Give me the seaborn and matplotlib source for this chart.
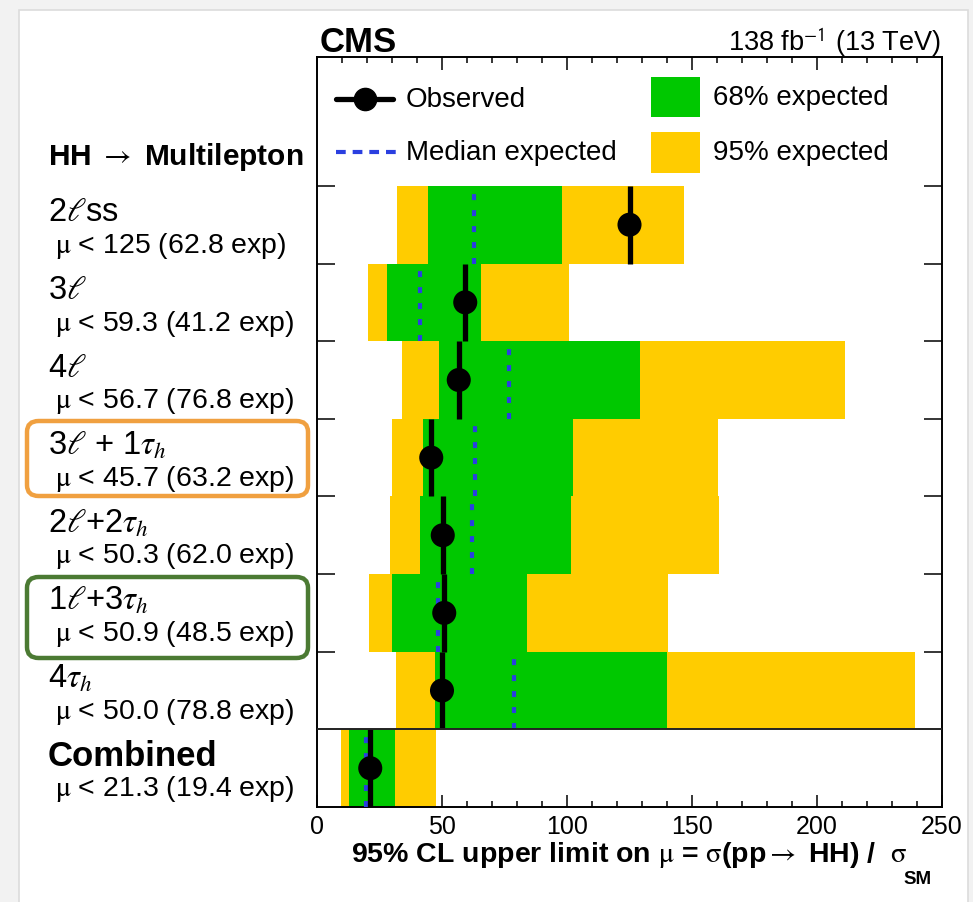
import numpy as np
import pandas as pd
import matplotlib
matplotlib.use("Agg")
import matplotlib.pyplot as plt
import seaborn as sns
from matplotlib.patches import Rectangle, FancyBboxPatch
from matplotlib.lines import Line2D
from matplotlib.ticker import MultipleLocator, FixedLocator
from matplotlib.transforms import blended_transform_factory

# ---- data: HH -> multilepton upper limits (top to bottom) ----
channels = ["2$\\ell$ss", "3$\\ell$", "4$\\ell$", "3$\\ell$ + 1$\\tau_h$",
            "2$\\ell$+2$\\tau_h$", "1$\\ell$+3$\\tau_h$", "4$\\tau_h$", "Combined"]
observed = [125.0, 59.3, 56.7, 45.7, 50.3, 50.9, 50.0, 21.3]
expected = [62.8, 41.2, 76.8, 63.2, 62.0, 48.5, 78.8, 19.4]
lo95 = [32.0, 20.3, 34.0, 30.0, 29.2, 20.8, 31.6, 9.5]
lo68 = [44.4, 27.9, 48.9, 42.4, 41.2, 30.1, 47.3, 12.9]
hi68 = [98.0, 65.6, 129.2, 102.4, 101.5, 83.9, 140.0, 31.2]
hi95 = [146.8, 100.8, 211.2, 160.4, 160.8, 140.4, 239.2, 47.6]

n = len(channels)
df = pd.DataFrame({
    "channel": channels, "obs": observed, "exp": expected,
    "lo95": lo95, "lo68": lo68, "hi68": hi68, "hi95": hi95,
})
df["row"] = np.arange(n)[::-1] + 0.5   # Combined sits in the bottom row


def fmt(v):
    return f"{v:.0f}" if v >= 100 else f"{v:.1f}"


sns.set_theme(style="white")
plt.rcParams["font.family"] = ["Liberation Sans", "DejaVu Sans"]
plt.rcParams["text.color"] = "black"
plt.rcParams["mathtext.fontset"] = "stix"
plt.rcParams["lines.scale_dashes"] = False

W, H = 973, 903
fig = plt.figure(figsize=(W / 100, H / 100), dpi=100, facecolor="#f2f2f2")

# white page panel
fig.patches.append(Rectangle((19 / W, -0.05), (968 - 19) / W, (H - 11) / H + 0.05,
                             transform=fig.transFigure, facecolor="white",
                             edgecolor="#dcdcdc", lw=1.2, zorder=-5))

ax = fig.add_axes([317 / W, 95 / H, 625 / W, 750 / H])
ax.set_facecolor("white")

GREEN = "#00c800"
YELLOW = "#ffcc00"
BLUE = "#2a3fe0"

# expected bands
ax.barh(df["row"], df["hi95"] - df["lo95"], left=df["lo95"], height=1.0,
        color=YELLOW, linewidth=0, zorder=1)
ax.barh(df["row"], df["hi68"] - df["lo68"], left=df["lo68"], height=1.0,
        color=GREEN, linewidth=0, zorder=2)

# median expected (dotted) and observed (solid) lines across each row
for _, r in df.iterrows():
    ax.plot([r["exp"], r["exp"]], [r["row"] - 0.5, r["row"] + 0.5], color=BLUE,
            lw=3.0, linestyle=(0, (4.3, 7.2)), zorder=3, solid_capstyle="butt")
    ax.plot([r["obs"], r["obs"]], [r["row"] - 0.5, r["row"] + 0.5], color="black",
            lw=3.8, zorder=4, solid_capstyle="butt")

sns.scatterplot(data=df, x="obs", y="row", ax=ax, color="black", s=300,
                edgecolor="none", zorder=5, legend=False)

# separator between categories and the combination
ax.axhline(1.0, color="#222222", lw=1.4, zorder=6)

ymax = 9.66
ax.set_xlim(0, 250)
ax.set_ylim(0, ymax)

for s in ax.spines.values():
    s.set_color("black")
    s.set_linewidth(1.4)

ax.xaxis.set_major_locator(MultipleLocator(50))
ax.xaxis.set_minor_locator(MultipleLocator(10))
ax.yaxis.set_major_locator(FixedLocator(np.arange(2, n + 1)))
ax.tick_params(axis="x", which="major", direction="in", length=9, width=1.1,
               top=True, bottom=True, labelsize=18, pad=5, colors="black")
ax.tick_params(axis="x", which="minor", direction="in", length=4.5, width=1.1,
               top=True, bottom=True, colors="black")
ax.tick_params(axis="y", which="major", direction="in", length=13, width=1.1,
               left=True, right=True, labelleft=False, colors="black")
xlab = ax.set_xlabel(r"95% CL upper limit on $\mathrm{\mu}$ = $\mathrm{\sigma}$(pp$\rightarrow$ HH) /  $\mathrm{\sigma}$",
                     fontsize=20.5, fontweight="bold", labelpad=1, color="black")
ax.set_ylabel("")

# header texts
fig.text(320 / W, 1 - 42 / H, "CMS", fontsize=25, fontweight="bold", va="center", ha="left")
fig.text(941 / W, 1 - 42 / H, r"138 fb$^{\mathsf{-1}}$ (13 TeV)", fontsize=19.5, va="center", ha="right")

# legend, drawn in axes fraction
def ax_px(px, py):
    return ((px - 317) / 625, (808 - py) / 750)

ta = ax.transAxes
x0, y0 = ax_px(336, 100)
x1, _ = ax_px(393, 100)
ax.add_line(Line2D([x0, x1], [y0, y0], transform=ta, color="black", lw=3.8, zorder=7))
xm, _ = ax_px(365, 100)
ax.add_line(Line2D([xm], [y0], transform=ta, marker="o", markersize=16, color="black", zorder=7))
tx, _ = ax_px(406, 100)
ax.text(tx, y0, "Observed", transform=ta, fontsize=20, va="center", ha="left")
x0, y1 = ax_px(336, 153)
x1, _ = ax_px(397, 153)
ax.add_line(Line2D([x0, x1], [y1, y1], transform=ta, color=BLUE, lw=3.0,
                   linestyle=(0, (7.0, 5.0)), zorder=7))
ax.text(tx, y1, "Median expected", transform=ta, fontsize=20, va="center", ha="left")
for color, ytop, ybot, label in [(GREEN, 78, 118, "68% expected"), (YELLOW, 133, 174, "95% expected")]:
    bx0, by0 = ax_px(651, ybot)
    bx1, by1 = ax_px(700, ytop)
    ax.add_patch(Rectangle((bx0, by0), bx1 - bx0, by1 - by0, transform=ta,
                           facecolor=color, edgecolor="none", zorder=7))
    lx, ly = ax_px(713, (ytop + ybot) / 2)
    ax.text(lx, ly, label, transform=ta, fontsize=20, va="center", ha="left")

# row labels on the left
tr = blended_transform_factory(fig.transFigure, ax.transData)
px_per_row = 750 / ymax
fig.text(48 / W, 1 - 157 / H, "HH $\\rightarrow$ Multilepton", fontsize=21.5,
         fontweight="bold", va="center", ha="left")
for _, r in df.iterrows():
    top = r["row"] + 0.5
    name = r["channel"]
    bold = name == "Combined"
    fig.text(48 / W, top - 26 / px_per_row, name, transform=tr,
             fontsize=25 if bold else 23.5, fontweight="bold" if bold else "normal",
             va="center", ha="left")
    fig.text(55 / W, top - 59 / px_per_row,
             f"$\\mathrm{{\\mu}}$ < {fmt(r['obs'])} ({r['exp']:.1f} exp)", transform=tr,
             fontsize=20.5, va="center", ha="left")

# highlight boxes around two channel labels
for (ytop, ybot, col) in [(422, 497, "#f0a040"), (578, 659, "#4b7a33")]:
    fig.patches.append(FancyBboxPatch((27 / W, 1 - ybot / H), (308 - 27) / W, (ybot - ytop) / H,
                                      boxstyle="round,pad=0,rounding_size=0.012",
                                      transform=fig.transFigure, facecolor="none",
                                      edgecolor=col, lw=3.2, zorder=10))

# low-hanging "SM" subscript after the x-axis label
fig.canvas.draw()
bb = xlab.get_window_extent(renderer=fig.canvas.get_renderer())
fig.text((bb.x1 - 4) / W, (bb.y0 - 1) / H, "SM", fontsize=13.5, fontweight="bold",
         ha="left", va="top")

fig.savefig("out.png", dpi=100, facecolor=fig.get_facecolor())
